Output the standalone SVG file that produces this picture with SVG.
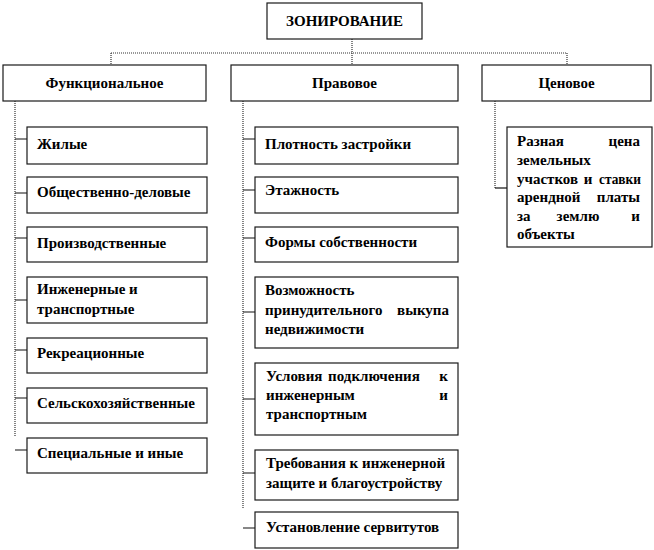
<svg xmlns="http://www.w3.org/2000/svg" width="654" height="550" viewBox="0 0 654 550">
<style>
rect.b{fill:#fff;stroke:#1a1a1a;stroke-width:1.2}
text{font-family:'Liberation Serif','DejaVu Serif',serif;font-weight:700;font-size:15px;fill:#000}
.c{text-anchor:middle}
.e{text-anchor:end}
.t{fill:none;stroke:#333;stroke-width:1.2;stroke-dasharray:1 1}
.s{fill:none;stroke:#111;stroke-width:1.2}
</style>
<rect width="654" height="550" fill="#fff"/>
<g id="connectors">
<path class="t" d="M352 39V65M111 53H567M111 53V65M567 53V65"/>
<path class="t" d="M15 101V437M243 101V508M495 101V188"/>
<path class="s" d="M15 139H27M15 193H27M15 238H27M15 300H27M15 350H27M15 398H27M15 450H27"/>
<path class="s" d="M243 139H255M243 190H255M243 238H255M243 312H255M243 399H255M243 473H255M243 528H255"/>
<path class="s" d="M495 188H507"/>
</g>
<g id="root"><rect class="b" x="267" y="3" width="155" height="36"/><text class="c" x="344.5" y="26">ЗОНИРОВАНИЕ</text></g>
<g id="functional"><rect class="b" x="3" y="65" width="203" height="36"/><text class="c" x="104.5" y="88">Функциональное</text></g>
<g id="legal"><rect class="b" x="231" y="65" width="227" height="36"/><text class="c" x="344.5" y="88">Правовое</text></g>
<g id="price"><rect class="b" x="482" y="65" width="169" height="36"/><text class="c" x="566.5" y="88">Ценовое</text></g>

<g id="f1"><rect class="b" x="27" y="127" width="180" height="37"/><text x="37" y="149">Жилые</text></g>
<g id="f2"><rect class="b" x="27" y="177" width="180" height="36"/><text x="37" y="197">Общественно-деловые</text></g>
<g id="f3"><rect class="b" x="27" y="227" width="180" height="35"/><text x="37" y="248">Производственные</text></g>
<g id="f4"><rect class="b" x="27" y="277" width="180" height="46"/><text x="37" y="294">Инженерные и</text><text x="37" y="314">транспортные</text></g>
<g id="f5"><rect class="b" x="27" y="338" width="180" height="35"/><text x="37" y="358">Рекреационные</text></g>
<g id="f6"><rect class="b" x="27" y="388" width="180" height="35"/><text x="37" y="408">Сельскохозяйственные</text></g>
<g id="f7"><rect class="b" x="27" y="438" width="180" height="35"/><text x="37" y="458">Специальные и иные</text></g>

<g id="l1"><rect class="b" x="255" y="127" width="203" height="37"/><text x="265" y="149">Плотность застройки</text></g>
<g id="l2"><rect class="b" x="255" y="177" width="203" height="36"/><text x="265" y="195">Этажность</text></g>
<g id="l3"><rect class="b" x="255" y="227" width="203" height="35"/><text x="265" y="247">Формы собственности</text></g>
<g id="l4"><rect class="b" x="255" y="277" width="203" height="71"/>
<text x="265" y="295">Возможность</text>
<text x="265" y="315">принудительного</text><text class="e" x="449" y="315">выкупа</text>
<text x="265" y="334">недвижимости</text></g>
<g id="l5"><rect class="b" x="255" y="363" width="203" height="72"/>
<text x="266" y="381">Условия</text><text class="c" x="374" y="381">подключения</text><text class="e" x="448" y="381">к</text>
<text x="266" y="400">инженерным</text><text class="e" x="448" y="400">и</text>
<text x="266" y="419">транспортным</text></g>
<g id="l6"><rect class="b" x="255" y="450" width="203" height="50"/><text x="266" y="468">Требования к инженерной</text><text x="266" y="488">защите и благоустройству</text></g>
<g id="l7"><rect class="b" x="255" y="512" width="203" height="36"/><text x="266" y="532">Установление сервитутов</text></g>

<g id="p1"><rect class="b" x="507" y="127" width="145" height="120"/>
<text x="517" y="146">Разная</text><text class="e" x="640" y="146">цена</text>
<text x="517" y="165">земельных</text>
<text x="517" y="184" textLength="61" lengthAdjust="spacingAndGlyphs">участков</text><text class="c" x="588" y="184">и</text><text class="e" x="641" y="184" textLength="42" lengthAdjust="spacingAndGlyphs">ставки</text>
<text x="517" y="202">арендной</text><text class="e" x="640" y="202">платы</text>
<text x="517" y="221">за</text><text class="c" x="578" y="221">землю</text><text class="e" x="640" y="221">и</text>
<text x="517" y="239">объекты</text></g>
</svg>
